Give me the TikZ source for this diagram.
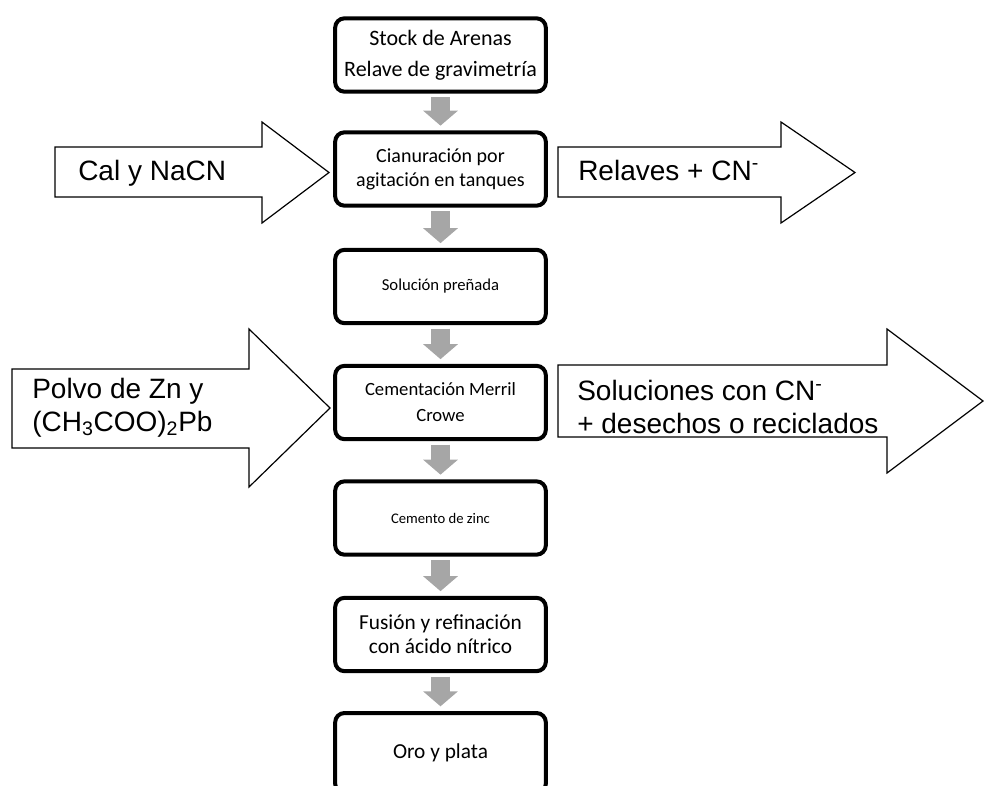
\documentclass[tikz,border=0pt]{standalone}
\usepackage{fontspec}
\setmainfont{Carlito}
\newfontfamily\arialfont{Liberation Sans}
\usetikzlibrary{arrows.meta}
\definecolor{flowgray}{RGB}{166,166,166}

\begin{document}
\begin{tikzpicture}[x=0.75pt, y=-0.75pt,
    stage/.style={draw, line width=3pt, rounded corners=7pt, minimum width=158pt,
        minimum height=55pt, align=center, inner sep=2pt},
    flowarrow/.style={flowgray, line width=14.25pt,
        -{Triangle[width=25.5pt,length=11.25pt]}, shorten <=2.5pt, shorten >=3.5pt},
    sidearrow/.style={draw, line width=0.9pt, fill=white, line join=miter},
    sidetext/.style={font=\arialfont\fontsize{21pt}{24.5pt}\selectfont, inner sep=0pt, align=left}
  ]
    \useasboundingbox (0,0) rectangle (984,785);

    % Process stages
    \node[stage, font=\fontsize{16.5pt}{23pt}\selectfont] (stock) at (440.5,55)
        {Stock de Arenas\\Relave de gravimetría};
    \node[stage, font=\fontsize{15pt}{18pt}\selectfont] (cianuracion) at (440.5,169)
        {Cianuración por\\agitación en tanques};
    \node[stage, font=\fontsize{12.5pt}{15pt}\selectfont] (prenada) at (440.5,286.5)
        {Solución preñada};
    \node[stage, font=\fontsize{14pt}{19.5pt}\selectfont] (cementacion) at (440.5,402.5)
        {Cementación Merril\\Crowe};
    \node[stage, font=\fontsize{11pt}{13pt}\selectfont] (cemento) at (440.5,518)
        {Cemento de zinc};
    \node[stage, font=\fontsize{16pt}{18pt}\selectfont] (fusion) at (440.5,634.5)
        {Fusión y refinación\\con ácido nítrico};
    \node[stage, font=\fontsize{16pt}{18pt}\selectfont, minimum height=60pt] (oro) at (440.5,753)
        {Oro y plata};

    % Gray flow arrows
    \draw[flowarrow] (stock) -- (cianuracion);
    \draw[flowarrow] (cianuracion) -- (prenada);
    \draw[flowarrow] (prenada) -- (cementacion);
    \draw[flowarrow] (cementacion) -- (cemento);
    \draw[flowarrow] (cemento) -- (fusion);
    \draw[flowarrow] (fusion) -- (oro);

    % Inputs and outputs of the cyanidation
    \draw[sidearrow] (55,147) -- (262,147) -- (262,122) -- (329,172.5)
        -- (262,223) -- (262,197) -- (55,197) -- cycle;
    \node[sidetext, anchor=base west] (cal) at (78,180) {Cal y NaCN};

    \draw[sidearrow] (558,147) -- (781,147) -- (781,122) -- (855,172.5)
        -- (781,223) -- (781,197) -- (558,197) -- cycle;
    \node[sidetext, anchor=base west] (relaves) at (578,180) {Relaves + CN\textsuperscript{-}};

    % Inputs and outputs of the cementation
    \draw[sidearrow] (12,369) -- (249,369) -- (249,329) -- (330,408)
        -- (249,487) -- (249,448) -- (12,448) -- cycle;
    \node[sidetext, anchor=west] (polvo) at (32,408)
        {Polvo de Zn y\\(CH\textsubscript{3}COO)\textsubscript{2}Pb};

    \draw[sidearrow] (558,365) -- (887,365) -- (887,329) -- (983,401)
        -- (887,473) -- (887,437) -- (558,437) -- cycle;
    \node[sidetext, anchor=west] (soluciones) at (577,407)
        {Soluciones con CN\textsuperscript{-}\\+ desechos o reciclados};

\end{tikzpicture}
\end{document}
